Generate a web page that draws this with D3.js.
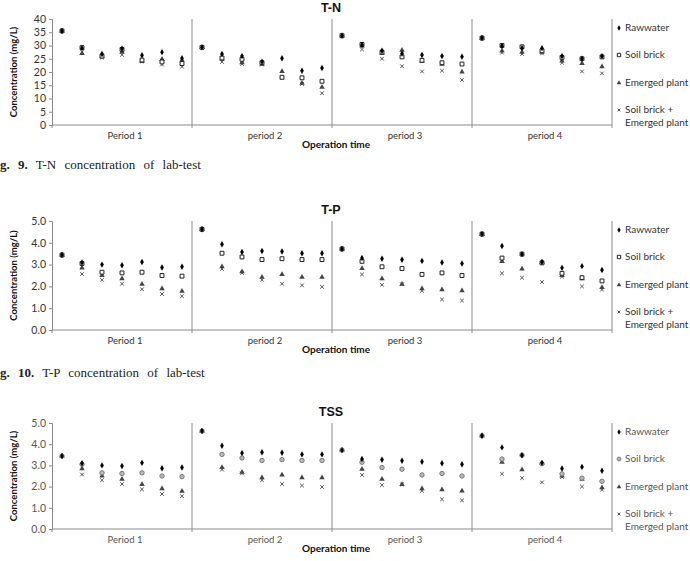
<!DOCTYPE html>
<html>
<head>
<meta charset="utf-8">
<script src="https://cdnjs.cloudflare.com/ajax/libs/d3/7.8.5/d3.min.js"></script>
<style>
    body { margin: 0; background: #fff; }
    svg { display: block; }
</style>
</head>
<body>
<svg id="chart" width="690" height="561"></svg>
<script>
/***************************************************************
    Data
****************************************************************/
const periods = ["Period 1", "period 2", "period 3", "period 4"];
const seriesNames = ["Rawwater", "Soil brick", "Emerged plant", "Soil brick +|Emerged plant"];

// T-N (mg/L), 7 samples per period
const tnRaw = [35.5, 29.0, 26.8, 28.8, 26.3, 27.5, 25.2,
               29.3, 26.8, 26.0, 23.9, 25.2, 20.5, 21.5,
               33.7, 30.2, 28.0, 27.0, 26.4, 26.0, 25.8,
               32.8, 29.8, 29.0, 29.0, 26.0, 25.0, 26.0];
const tnSoil = [35.5, 29.2, 26.0, 28.5, 24.5, 23.8, 23.2,
                29.3, 25.3, 24.8, 23.5, 18.0, 17.8, 16.5,
                33.7, 30.4, 27.5, 25.7, 24.4, 23.5, 23.0,
                32.8, 30.0, 29.5, 28.0, 25.5, 25.0, 25.7];
const tnPlant = [35.5, 27.0, 25.8, 27.5, 24.0, 24.8, 24.5,
                 29.3, 24.8, 23.5, 23.0, 20.2, 15.8, 14.3,
                 33.7, 29.8, 27.0, 28.2, 24.0, 23.0, 20.0,
                 32.8, 28.0, 27.5, 27.5, 24.2, 23.2, 22.0];
const tnBoth = [35.5, 27.5, 25.5, 26.5, 24.0, 22.8, 22.0,
                29.3, 23.8, 23.0, 22.8, 17.8, 15.5, 12.0,
                33.7, 28.5, 25.0, 22.2, 20.2, 20.5, 17.0,
                32.8, 27.3, 26.8, 27.0, 23.5, 20.2, 19.5];

// T-P (mg/L)
const tpRaw = [3.44, 3.10, 3.00, 2.97, 3.12, 2.87, 2.90,
               4.62, 3.93, 3.58, 3.62, 3.60, 3.52, 3.52,
               3.72, 3.30, 3.27, 3.22, 3.17, 3.10, 3.05,
               4.40, 3.85, 3.48, 3.12, 2.85, 2.93, 2.75];
const tpSoil = [3.44, 3.05, 2.65, 2.62, 2.65, 2.50, 2.47,
                4.62, 3.52, 3.35, 3.23, 3.27, 3.23, 3.23,
                3.72, 3.15, 2.90, 2.82, 2.55, 2.62, 2.50,
                4.40, 3.30, 3.48, 3.08, 2.60, 2.40, 2.25];
const tpPlant = [3.44, 2.85, 2.50, 2.35, 2.10, 1.90, 1.78,
                 4.62, 2.90, 2.68, 2.42, 2.55, 2.42, 2.42,
                 3.72, 2.82, 2.35, 2.10, 1.90, 1.85, 1.80,
                 4.40, 3.15, 2.80, 3.10, 2.50, 2.35, 1.95];
const tpBoth = [3.44, 2.57, 2.30, 2.12, 1.87, 1.65, 1.55,
                4.62, 2.80, 2.62, 2.30, 2.12, 2.05, 1.98,
                3.72, 2.55, 2.07, 2.10, 1.80, 1.40, 1.35,
                4.40, 2.60, 2.40, 2.20, 2.45, 2.00, 1.85];

// TSS (mg/L)
const tssRaw = [3.44, 3.10, 3.00, 2.97, 3.12, 2.87, 2.90,
                4.62, 3.93, 3.58, 3.62, 3.60, 3.52, 3.52,
                3.72, 3.30, 3.27, 3.22, 3.17, 3.10, 3.05,
                4.40, 3.85, 3.48, 3.12, 2.85, 2.93, 2.75];
const tssSoil = [3.44, 3.05, 2.65, 2.62, 2.65, 2.50, 2.47,
                 4.62, 3.52, 3.35, 3.23, 3.27, 3.23, 3.23,
                 3.72, 3.15, 2.90, 2.82, 2.55, 2.62, 2.50,
                 4.40, 3.30, 3.48, 3.08, 2.60, 2.40, 2.25];
const tssPlant = [3.44, 2.85, 2.50, 2.35, 2.10, 1.90, 1.78,
                  4.62, 2.90, 2.68, 2.42, 2.55, 2.42, 2.42,
                  3.72, 2.82, 2.35, 2.10, 1.90, 1.85, 1.80,
                  4.40, 3.15, 2.80, 3.10, 2.50, 2.35, 1.95];
const tssBoth = [3.44, 2.57, 2.30, 2.12, 1.87, 1.65, 1.55,
                 4.62, 2.80, 2.62, 2.30, 2.12, 2.05, 1.98,
                 3.72, 2.55, 2.07, 2.10, 1.80, 1.40, 1.35,
                 4.40, 2.60, 2.40, 2.20, 2.45, 2.00, 1.85];

const tnTicks = [0, 5, 10, 15, 20, 25, 30, 35, 40];
const tpTicks = [0, 1, 2, 3, 4, 5];

/***************************************************************
    Layout
****************************************************************/
const svg = d3.select("#chart");
svg.append("rect").attr("width", 690).attr("height", 561).attr("fill", "#fff");

const plotLeft = 52, plotRight = 612;
const sansFont = "Lato, 'Liberation Sans', sans-serif";
const titleFont = "'Liberation Sans', Arial, sans-serif";
const serifFont = "'Liberation Serif', 'DejaVu Serif', serif";

const x = d3.scaleBand()
    .domain(d3.range(28))
    .range([plotLeft, plotRight]);

drawPanel({
    title: "T-N", top: 19, bottom: 125, max: 40, ticks: tnTicks, fmt: d3.format("d"),
    series: [tnRaw, tnSoil, tnPlant, tnBoth], circleSoil: false, textColor: "#333"
});
drawPanel({
    title: "T-P", top: 221, bottom: 330, max: 5, ticks: tpTicks, fmt: d3.format(".1f"),
    series: [tpRaw, tpSoil, tpPlant, tpBoth], circleSoil: false, textColor: "#333"
});
drawPanel({
    title: "TSS", top: 423, bottom: 529, max: 5, ticks: tpTicks, fmt: d3.format(".1f"),
    series: [tssRaw, tssSoil, tssPlant, tssBoth], circleSoil: true, textColor: "#555"
});

drawCaption(166, "g. 9.", ["T-N", "concentration", "of", "lab-test"]);
drawCaption(374, "g. 10.", ["T-P", "concentration", "of", "lab-test"]);

/***************************************************************
    Drawing
****************************************************************/
function drawPanel(cfg) {
    const g = svg.append("g");
    const y = d3.scaleLinear().domain([0, cfg.max]).range([cfg.bottom, cfg.top]);
    const axisColor = "#8c8c8c";

    // y axis
    const yAxis = g.append("g")
        .attr("transform", `translate(${plotLeft},0)`)
        .call(d3.axisLeft(y).tickValues(cfg.ticks).tickFormat(cfg.fmt).tickSize(3).tickPadding(3));
    yAxis.select(".domain").attr("stroke", axisColor);
    yAxis.selectAll(".tick line").attr("stroke", axisColor);
    yAxis.selectAll("text")
        .attr("font-family", sansFont).attr("font-size", 10.5).attr("fill", cfg.textColor);

    // x axis line
    g.append("line")
        .attr("x1", plotLeft).attr("x2", plotRight)
        .attr("y1", cfg.bottom).attr("y2", cfg.bottom)
        .attr("stroke", axisColor);

    // period separators
    const bounds = d3.range(periods.length + 1).map(p => p === periods.length ? plotRight : x(p * 7));
    g.selectAll(".sep").data(bounds.slice(1)).enter().append("line")
        .attr("x1", d => d).attr("x2", d => d)
        .attr("y1", cfg.top).attr("y2", cfg.bottom + 3)
        .attr("stroke", axisColor);
    g.append("line")
        .attr("x1", plotLeft).attr("x2", plotLeft)
        .attr("y1", cfg.bottom).attr("y2", cfg.bottom + 3)
        .attr("stroke", axisColor);

    // period labels
    g.selectAll(".plabel").data(periods).enter().append("text")
        .attr("x", (d, i) => (bounds[i] + bounds[i + 1]) / 2 + 3)
        .attr("y", cfg.bottom + 12)
        .attr("text-anchor", "middle").attr("dominant-baseline", "middle")
        .attr("font-family", sansFont).attr("font-size", 9.5).attr("fill", cfg.textColor)
        .text(d => d);

    // axis titles
    g.append("text")
        .attr("x", 336).attr("y", cfg.bottom + 20)
        .attr("text-anchor", "middle").attr("dominant-baseline", "middle")
        .attr("font-family", sansFont).attr("font-size", 10).attr("font-weight", "bold").attr("fill", "#111")
        .text("Operation time");
    g.append("text")
        .attr("transform", `translate(15,${(cfg.top + cfg.bottom) / 2}) rotate(-90)`)
        .attr("text-anchor", "middle").attr("dominant-baseline", "middle")
        .attr("font-family", sansFont).attr("font-size", 9.5).attr("font-weight", "bold").attr("fill", "#111")
        .text("Concentration (mg/L)");

    // chart title (baseline just above the plot)
    g.append("text")
        .attr("x", 331).attr("y", cfg.top - 7)
        .attr("text-anchor", "middle")
        .attr("font-family", titleFont).attr("font-size", 12.5).attr("font-weight", "bold").attr("fill", "#111")
        .text(cfg.title);

    // markers, drawn back to front
    [3, 2, 1, 0].forEach(s => {
        g.selectAll(".m" + s).data(cfg.series[s]).enter().append("path")
            .attr("transform", (d, i) => `translate(${x(i) + x.bandwidth() / 2},${y(d)})`)
            .each(function () { styleMarker(d3.select(this), s, cfg.circleSoil); });
    });

    // legend
    const legendOffsets = [9, 36, 64, 91];
    seriesNames.forEach((name, s) => {
        const ly = cfg.top + legendOffsets[s];
        const mk = g.append("path").attr("transform", `translate(619,${ly})`);
        styleMarker(mk, s, cfg.circleSoil, 0.75);
        name.split("|").forEach((line, k) => {
            g.append("text")
                .attr("x", 625).attr("y", ly + k * 13.5)
                .attr("dominant-baseline", "middle")
                .attr("font-family", sansFont).attr("font-size", 10).attr("fill", cfg.textColor)
                .text(line);
        });
    });
}

function styleMarker(sel, s, circleSoil, scale = 1) {
    if (s === 0) {
        sel.attr("d", d3.symbol(d3.symbolDiamond, 12 * scale)).attr("fill", "#000");
    } else if (s === 1) {
        if (circleSoil) {
            sel.attr("d", d3.symbol(d3.symbolCircle, 15 * scale))
                .attr("fill", "#bbb").attr("stroke", "#777").attr("stroke-width", 1);
        } else {
            sel.attr("d", d3.symbol(d3.symbolSquare, 15 * scale))
                .attr("fill", "#fff").attr("stroke", "#222").attr("stroke-width", 1);
        }
    } else if (s === 2) {
        sel.attr("d", d3.symbol(d3.symbolTriangle, 13 * scale)).attr("fill", "#444");
    } else {
        const r = 1.8 * scale;
        sel.attr("d", `M${-r},${-r}L${r},${r}M${-r},${r}L${r},${-r}`)
            .attr("fill", "none").attr("stroke", "#555").attr("stroke-width", 1);
    }
}

function drawCaption(yPos, label, words) {
    const t = svg.append("text")
        .attr("x", 0).attr("y", yPos)
        .attr("dominant-baseline", "middle")
        .attr("font-family", serifFont).attr("font-size", 13).attr("fill", "#222")
        .attr("word-spacing", 5);
    t.append("tspan").attr("font-weight", "bold").text(label);
    t.append("tspan").attr("dx", 8).text(words.join(" "));
}
</script>
</body>
</html>
